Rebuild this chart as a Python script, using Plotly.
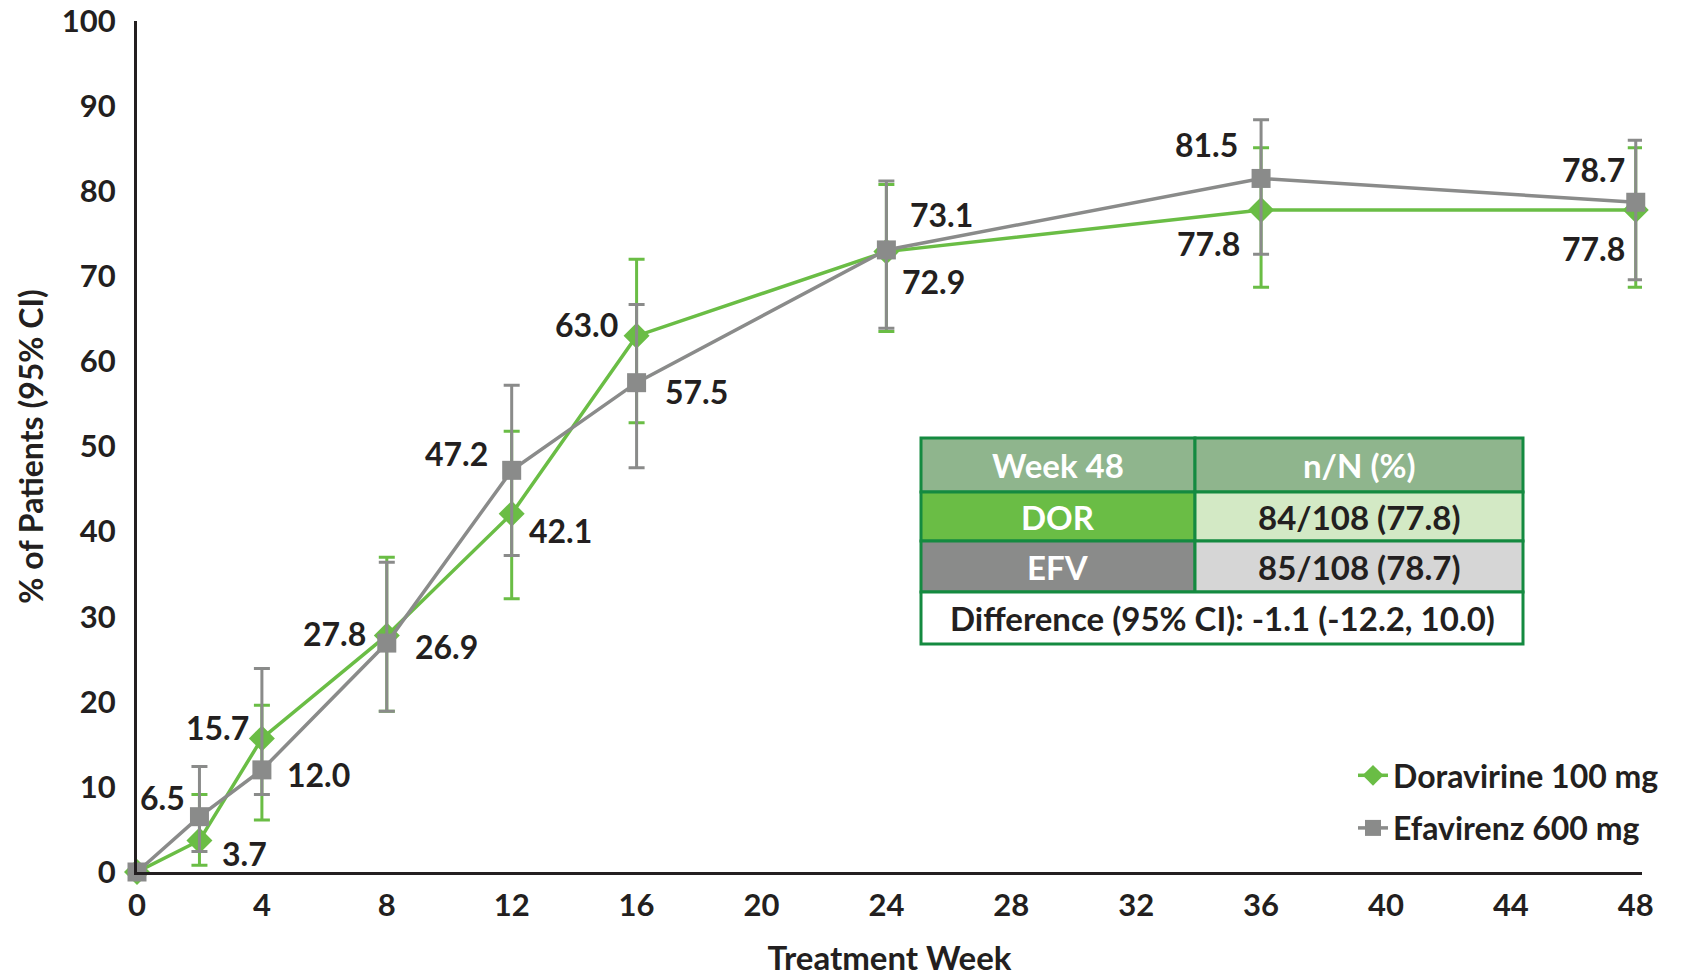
import plotly.graph_objects as go

# ---------------- data ----------------
weeks = [0, 2, 4, 8, 12, 16, 24, 36, 48]
dor_pct = [0, 3.7, 15.7, 27.8, 42.1, 63.0, 72.9, 77.8, 77.8]
dor_upper = [0, 9.1, 19.6, 37.0, 51.8, 72.0, 80.8, 85.1, 85.1]
dor_lower = [0, 0.8, 6.1, 18.9, 32.1, 52.8, 63.5, 68.7, 68.7]
efv_pct = [0, 6.5, 12.0, 26.9, 47.2, 57.5, 73.1, 81.5, 78.7]
efv_upper = [0, 12.4, 23.9, 36.4, 57.2, 66.7, 81.2, 88.4, 86.0]
efv_lower = [0, 2.4, 9.1, 18.9, 37.2, 47.5, 63.9, 72.6, 69.6]
x_ticks = [0, 4, 8, 12, 16, 20, 24, 28, 32, 36, 40, 44, 48]
y_ticks = [0, 10, 20, 30, 40, 50, 60, 70, 80, 90, 100]

table_header = ["Week 48", "n/N (%)"]
table_dor = ["DOR", "84/108 (77.8)"]
table_efv = ["EFV", "85/108 (78.7)"]
table_diff = "Difference (95% CI): -1.1 (-12.2, 10.0)"

# ---------------- style ----------------
GREEN = "#6abd45"
GRAY = "#8a8b8a"
DARK = "#231f20"
FONT = "Lato"
W, H = 1688, 977
ML, MR, MT, MB = 137, 46, 21, 105
PW, PH = W - ML - MR, H - MT - MB

def px_x(px):
    return (px - ML) / PW

def px_y(py):
    return (H - MB - py) / PH

fig = go.Figure()

fig.add_trace(go.Scatter(
    x=weeks, y=dor_pct, name="Doravirine 100 mg", mode="lines+markers",
    line=dict(color=GREEN, width=3.5),
    marker=dict(symbol="diamond", size=20, color=GREEN),
    error_y=dict(type="data", symmetric=False,
                 array=[u - v for u, v in zip(dor_upper, dor_pct)],
                 arrayminus=[v - l for v, l in zip(dor_pct, dor_lower)],
                 color=GREEN, thickness=3, width=8),
    cliponaxis=False, legendgroup="a",
))
fig.add_trace(go.Scatter(
    x=weeks, y=efv_pct, name="Efavirenz 600 mg", mode="lines+markers",
    line=dict(color=GRAY, width=3.5),
    marker=dict(symbol="square", size=19, color=GRAY),
    error_y=dict(type="data", symmetric=False,
                 array=[u - v for u, v in zip(efv_upper, efv_pct)],
                 arrayminus=[v - l for v, l in zip(efv_pct, efv_lower)],
                 color=GRAY, thickness=3, width=8),
    cliponaxis=False, legendgroup="b",
))

# data labels (positions from data, offsets as style)
dor_off = [None, ("left", 21, -13), ("right", -11, 11), ("right", -19, 2),
           ("left", 15, -17), ("right", -17, 11), ("left", 14, -30),
           ("right", -19, -34), ("right", -9, -39)]
efv_off = [None, ("right", -12, 19), ("left", 23, -5), ("left", 26, -3),
           ("right", -22, 17), ("left", 26, -9), ("left", 22, 35),
           ("right", -21, 34), ("right", -9, 33)]
annotations = []
for vals, offs in ((dor_pct, dor_off), (efv_pct, efv_off)):
    for wk, v, o in zip(weeks, vals, offs):
        if o is None:
            continue
        annotations.append(dict(
            x=wk, y=v, xref="x", yref="y", text=f"{v:.1f}", showarrow=False,
            xanchor=o[0], yanchor="middle", xshift=o[1], yshift=o[2],
            font=dict(family=FONT, size=32, color=DARK, weight="bold")))

# table
cols = [921, 1195, 1523]
rows = [438, 492, 541, 592, 644]
BORDER = "#148a40"
TFONT = 33
shapes = []
cells = [
    (0, 0, "#8fb58d", table_header[0], "white"),
    (0, 1, "#8fb58d", table_header[1], "white"),
    (1, 0, GREEN, table_dor[0], "white"),
    (1, 1, "#d3e9c5", table_dor[1], DARK),
    (2, 0, GRAY, table_efv[0], "white"),
    (2, 1, "#d6d6d6", table_efv[1], DARK),
]
for r, c, fill, txt, fc in cells:
    shapes.append(dict(type="rect", xref="paper", yref="paper",
                       x0=px_x(cols[c]), x1=px_x(cols[c + 1]),
                       y0=px_y(rows[r]), y1=px_y(rows[r + 1]),
                       fillcolor=fill, line=dict(color=BORDER, width=3), layer="above"))
    annotations.append(dict(x=px_x((cols[c] + cols[c + 1]) / 2),
                            y=px_y((rows[r] + rows[r + 1]) / 2),
                            xref="paper", yref="paper", text=txt, showarrow=False,
                            xanchor="center", yanchor="middle",
                            font=dict(family=FONT, size=TFONT, color=fc, weight="bold")))
shapes.append(dict(type="rect", xref="paper", yref="paper",
                   x0=px_x(cols[0]), x1=px_x(cols[2]),
                   y0=px_y(rows[3]), y1=px_y(rows[4]),
                   fillcolor="white", line=dict(color=BORDER, width=3), layer="above"))
annotations.append(dict(x=px_x((cols[0] + cols[2]) / 2), y=px_y((rows[3] + rows[4]) / 2),
                        xref="paper", yref="paper", text=table_diff, showarrow=False,
                        xanchor="center", yanchor="middle",
                        font=dict(family=FONT, size=TFONT, color=DARK, weight="bold")))

fig.update_layout(
    width=W, height=H,
    margin=dict(l=ML, r=MR, t=MT, b=MB, autoexpand=False),
    paper_bgcolor="white", plot_bgcolor="white",
    font=dict(family=FONT, color=DARK),
    showlegend=True,
    legend=dict(x=px_x(1353), y=px_y(802), xanchor="left", yanchor="middle",
                font=dict(family=FONT, size=32, color=DARK, weight="bold"),
                bgcolor="rgba(0,0,0,0)", traceorder="grouped", tracegroupgap=8),
    annotations=annotations,
    shapes=shapes,
)
fig.update_xaxes(range=[0, 48.2], tickvals=x_ticks, showgrid=False, zeroline=False,
                 showline=True, linecolor=DARK, linewidth=3, ticks="", automargin=False,
                 tickfont=dict(family=FONT, size=31, color=DARK, weight="bold"),
                 ticklabelstandoff=4,
                 title=dict(text="Treatment Week", standoff=30,
                            font=dict(family=FONT, size=33, color=DARK, weight="bold")))
fig.update_yaxes(range=[0, 100], tickvals=y_ticks, showgrid=False, zeroline=False,
                 showline=True, linecolor=DARK, linewidth=3, ticks="", automargin=False,
                 tickfont=dict(family=FONT, size=31, color=DARK, weight="bold"),
                 ticklabelstandoff=12,
                 title=dict(text="% of Patients (95% CI)", standoff=9,
                            font=dict(family=FONT, size=32, color=DARK, weight="bold")))

fig.write_html("out.html")
